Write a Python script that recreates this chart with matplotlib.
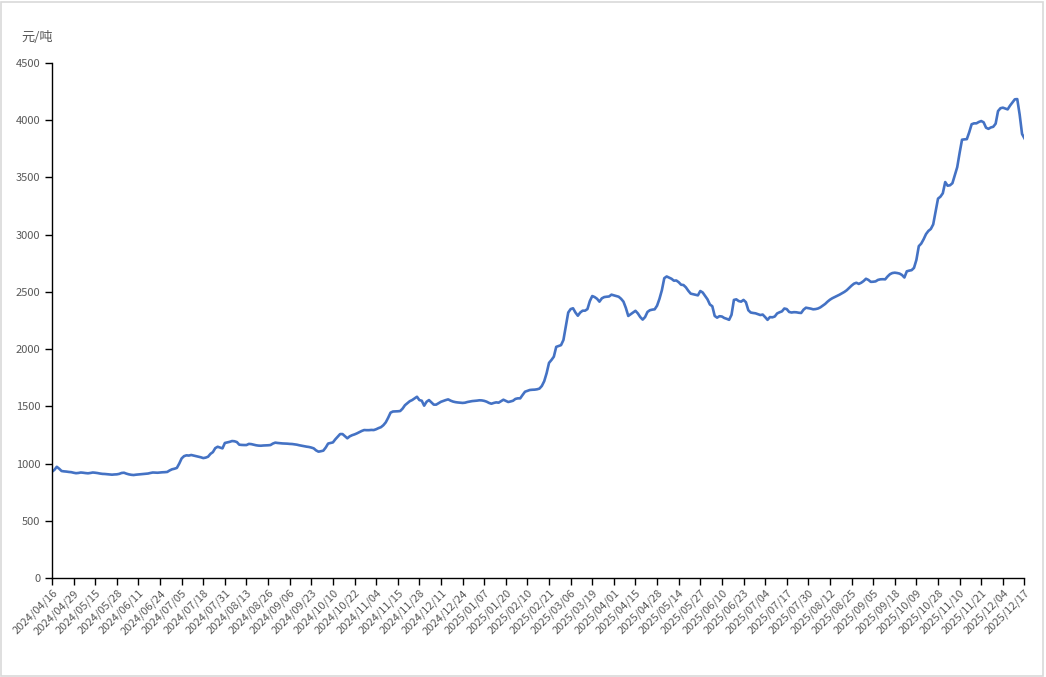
import matplotlib
matplotlib.use("Agg")
import matplotlib.pyplot as plt
from matplotlib.patches import Rectangle

plt.rcParams['font.family'] = ['Noto Sans CJK SC', 'DejaVu Sans']

# labelled dates (every 9th trading day)
tick_labels = [
    "2024/04/16", "2024/04/29", "2024/05/15", "2024/05/28", "2024/06/11",
    "2024/06/24", "2024/07/05", "2024/07/18", "2024/07/31", "2024/08/13",
    "2024/08/26", "2024/09/06", "2024/09/23", "2024/10/10", "2024/10/22",
    "2024/11/04", "2024/11/15", "2024/11/28", "2024/12/11", "2024/12/24",
    "2025/01/07", "2025/01/20", "2025/02/10", "2025/02/21", "2025/03/06",
    "2025/03/19", "2025/04/01", "2025/04/15", "2025/04/28", "2025/05/14",
    "2025/05/27", "2025/06/10", "2025/06/23", "2025/07/04", "2025/07/17",
    "2025/07/30", "2025/08/12", "2025/08/25", "2025/09/05", "2025/09/18",
    "2025/10/09", "2025/10/28", "2025/11/10", "2025/11/21", "2025/12/04",
    "2025/12/17",
]
tick_step = 9

# daily price, 元/吨
price = [
    929, 945, 972, 955, 935, 932, 930, 927, 925,
    920, 916, 918, 922, 920, 917, 915, 918, 922,
    920, 917, 913, 910, 909, 907, 905, 903, 905,
    906, 910, 918, 920, 912, 906, 902, 900, 903,
    905, 907, 909, 911, 913, 918, 922, 921, 920,
    922, 924, 925, 927, 940, 950, 955, 962, 1000,
    1045, 1065, 1072, 1070, 1075, 1070, 1065, 1060, 1055,
    1048, 1052, 1060, 1085, 1100, 1135, 1147, 1140, 1133,
    1180, 1185, 1190, 1197, 1195, 1188, 1165, 1163, 1162,
    1162, 1172, 1170, 1165, 1160, 1157, 1156, 1158, 1159,
    1160, 1162, 1175, 1183, 1180, 1178, 1176, 1175, 1174,
    1172, 1171, 1168, 1165, 1160, 1156, 1152, 1148, 1145,
    1140, 1133, 1115, 1104, 1108, 1113, 1140, 1175, 1180,
    1185, 1212, 1235, 1258, 1258, 1240, 1221, 1238, 1248,
    1255, 1264, 1275, 1285, 1293, 1292, 1292, 1294, 1293,
    1300, 1310, 1318, 1335, 1360, 1400, 1445, 1455, 1456,
    1457, 1459, 1480, 1510, 1528, 1545, 1555, 1570, 1584,
    1555, 1549, 1506, 1540, 1555, 1535, 1515, 1515, 1528,
    1540, 1548, 1555, 1561, 1550, 1542, 1537, 1534, 1532,
    1530, 1532, 1538, 1542, 1546, 1548, 1550, 1553, 1552,
    1548, 1541, 1530, 1523, 1530, 1535, 1532, 1545, 1558,
    1548, 1538, 1543, 1549, 1565, 1570, 1570, 1600, 1628,
    1635, 1643, 1645, 1646, 1649, 1655, 1678, 1720, 1790,
    1880, 1905, 1934, 2020, 2027, 2035, 2080, 2200, 2320,
    2350, 2357, 2320, 2292, 2320, 2336, 2336, 2350, 2420,
    2464, 2455, 2440, 2415, 2444, 2455, 2458, 2460, 2476,
    2470, 2465, 2458, 2440, 2415, 2360, 2290, 2305, 2320,
    2335, 2312, 2280, 2258, 2280, 2325, 2340, 2345, 2348,
    2380, 2440, 2515, 2620, 2635, 2625, 2615, 2598, 2600,
    2585, 2563, 2560, 2540, 2510, 2485, 2480, 2475, 2470,
    2508, 2495, 2465, 2435, 2390, 2375, 2290, 2275, 2288,
    2285, 2272, 2265, 2256, 2300, 2430, 2435, 2420, 2415,
    2430, 2410, 2340, 2320, 2316, 2313, 2306, 2298, 2302,
    2280, 2256, 2280, 2278, 2285, 2312, 2322, 2330, 2355,
    2350, 2325, 2320, 2323, 2322, 2318, 2316, 2345, 2362,
    2358, 2354, 2348, 2350, 2355, 2365, 2380, 2395, 2415,
    2432, 2445, 2455, 2464, 2476, 2488, 2500, 2515, 2535,
    2555, 2572, 2580, 2570, 2580, 2595, 2615, 2605, 2588,
    2589, 2592, 2605, 2610, 2611, 2610, 2635, 2655, 2665,
    2668, 2665, 2660, 2648, 2626, 2680, 2686, 2690, 2710,
    2780, 2900, 2922, 2960, 3005, 3033, 3050, 3090, 3200,
    3315, 3332, 3362, 3460, 3428, 3432, 3450, 3520, 3590,
    3715, 3830, 3833, 3835, 3895, 3965, 3973, 3973, 3985,
    3993, 3982, 3935, 3925, 3937, 3943, 3970, 4080, 4105,
    4110, 4103, 4095, 4128, 4155, 4183, 4185, 4050, 3880,
    3842,
]

fig = plt.figure(figsize=(10.46, 6.77), dpi=100)
fig.patches.append(Rectangle((0.001, 0.002), 0.996, 0.995, transform=fig.transFigure,
                             fill=False, edgecolor='#d9d9d9', linewidth=1.2))
ax = fig.add_axes([0.0497, 0.1462, 0.9297, 0.7607])

x = list(range(len(price)))
ax.plot(x, price, color='#4472C4', linewidth=1.9, solid_joinstyle='round')

ax.set_xlim(0, len(price) - 1)
ax.set_ylim(0, 4500)
ax.set_yticks(range(0, 4501, 500))
ax.set_xticks(range(0, len(price), tick_step))
ax.set_xticklabels(tick_labels, rotation=45, ha='right', rotation_mode='anchor')

for s in ['top', 'right']:
    ax.spines[s].set_visible(False)
for s in ['left', 'bottom']:
    ax.spines[s].set_color('black')
    ax.spines[s].set_linewidth(1.0)
ax.tick_params(axis='both', direction='out', length=5, width=1, color='black',
               labelcolor='#595959', labelsize=8)
ax.tick_params(axis='x', pad=2)

ax.text(-0.031, 1.0505, '元/吨', transform=ax.transAxes, fontsize=9.5, color='#595959',
        ha='left', va='center')

fig.savefig('out.png', dpi=100)
